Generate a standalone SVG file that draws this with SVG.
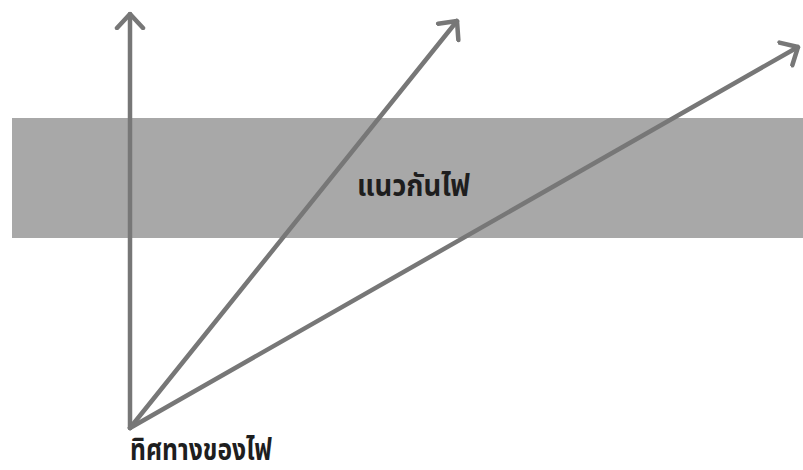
<svg xmlns="http://www.w3.org/2000/svg" width="803" height="470" viewBox="0 0 803 470">
<style>
.ar{fill:none;stroke:#777777;stroke-width:4.5;stroke-linecap:round;stroke-linejoin:round}
.lb{font-family:"Noto Sans","Noto Sans Thai",Tahoma,sans-serif;font-weight:bold;font-size:30px;fill:#1e1e1e}
</style>
<defs>
<marker id="m" viewBox="-16 -16 18 32" markerWidth="18" markerHeight="32" refX="0" refY="0" orient="auto" markerUnits="userSpaceOnUse">
<path d="M-14,-13 L0,0 L-14,13" fill="none" stroke="#777777" stroke-width="4.5" stroke-linecap="round" stroke-linejoin="round"/>
</marker>
</defs>
<rect width="803" height="470" fill="#ffffff"/>
<g id="firebreak">
<rect x="12" y="118" width="791" height="120" fill="#a8a8a8"/>
<text class="lb" x="357" y="196" textLength="113" lengthAdjust="spacingAndGlyphs">แนวกันไฟ</text>
</g>
<g id="connectors">
<path class="ar" d="M130,428 L130,14" marker-end="url(#m)"/>
<path class="ar" d="M130,428 L457,21" marker-end="url(#m)"/>
<path class="ar" d="M130,428 L798,47" marker-end="url(#m)"/>
</g>
<g id="direction">
<text class="lb" x="130" y="460" font-size="28" textLength="142" lengthAdjust="spacingAndGlyphs">ทิศทางของไฟ</text>
</g>
</svg>
